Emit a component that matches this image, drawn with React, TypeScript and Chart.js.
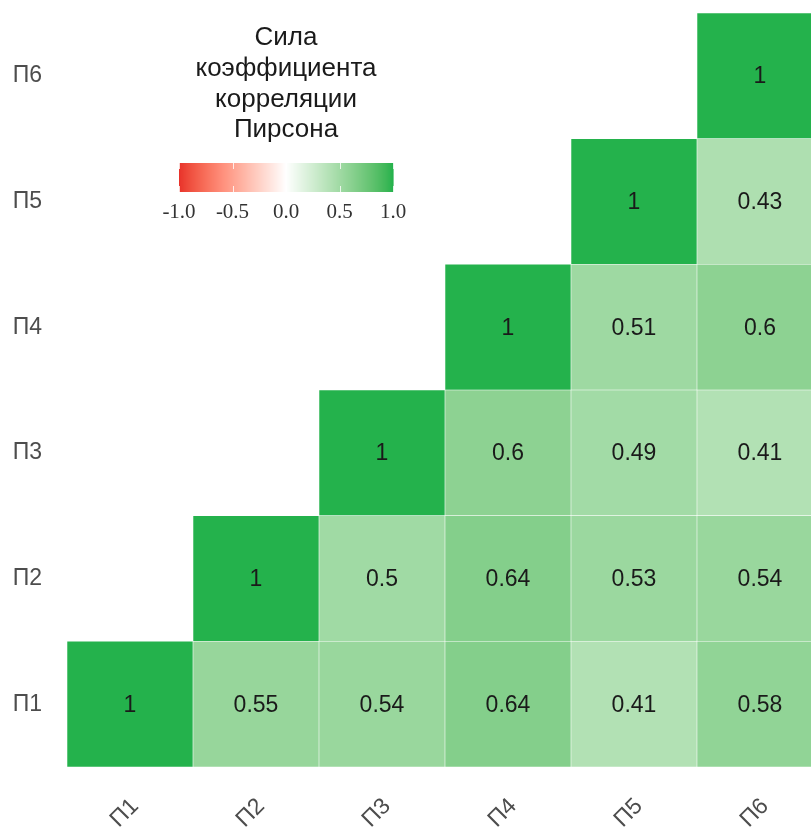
import React, { useEffect, useRef } from "react";
import { Chart, registerables } from "chart.js";
Chart.register(...registerables);

const categories = ["П1", "П2", "П3", "П4", "П5", "П6"];
const rowP1 = [1, 0.55, 0.54, 0.64, 0.41, 0.58];
const rowP2 = [null, 1, 0.5, 0.64, 0.53, 0.54];
const rowP3 = [null, null, 1, 0.6, 0.49, 0.41];
const rowP4 = [null, null, null, 1, 0.51, 0.6];
const rowP5 = [null, null, null, null, 1, 0.43];
const rowP6 = [null, null, null, null, null, 1];
const rows = [rowP1, rowP2, rowP3, rowP4, rowP5, rowP6];
const legendTitle = ["Сила", "коэффициента", "корреляции", "Пирсона"];
const legendTicks = [-1, -0.5, 0, 0.5, 1];

const LOW = [232, 49, 42];
const HIGH = [36, 178, 76];
const MID = [255, 255, 255];

function srgbToLin(c: number) { c /= 255; return c <= 0.04045 ? c / 12.92 : Math.pow((c + 0.055) / 1.055, 2.4); }
function linToSrgb(c: number) { const v = c <= 0.0031308 ? 12.92 * c : 1.055 * Math.pow(c, 1 / 2.4) - 0.055; return Math.max(0, Math.min(255, Math.round(v * 255))); }
const Xn = 0.95047, Yn = 1.0, Zn = 1.08883;
function f(t: number) { return t > 216 / 24389 ? Math.cbrt(t) : (24389 / 27 * t + 16) / 116; }
function finv(t: number) { return t * t * t > 216 / 24389 ? t * t * t : (116 * t - 16) / (24389 / 27); }
function rgbToLab(rgb: number[]) {
  const [r, g, b] = rgb.map(srgbToLin);
  const X = 0.4124 * r + 0.3576 * g + 0.1805 * b;
  const Y = 0.2126 * r + 0.7152 * g + 0.0722 * b;
  const Z = 0.0193 * r + 0.1192 * g + 0.9505 * b;
  const fx = f(X / Xn), fy = f(Y / Yn), fz = f(Z / Zn);
  return [116 * fy - 16, 500 * (fx - fy), 200 * (fy - fz)];
}
function labToRgb(lab: number[]) {
  const [L, a, bb] = lab;
  const fy = (L + 16) / 116, fx = fy + a / 500, fz = fy - bb / 200;
  const X = Xn * finv(fx), Y = Yn * finv(fy), Z = Zn * finv(fz);
  const r = 3.2406 * X - 1.5372 * Y - 0.4986 * Z;
  const g = -0.9689 * X + 1.8758 * Y + 0.0415 * Z;
  const b = 0.0557 * X - 0.204 * Y + 1.057 * Z;
  return [linToSrgb(r), linToSrgb(g), linToSrgb(b)];
}
function colorFor(v: number) {
  const end = v >= 0 ? HIGH : LOW;
  const t = Math.min(1, Math.abs(v));
  const a = rgbToLab(MID), b = rgbToLab(end);
  const lab = a.map((x, i) => x + (b[i] - x) * t);
  const [r, g, bl] = labToRgb(lab);
  return `rgb(${r},${g},${bl})`;
}

const FONT = "'Liberation Sans', Arial, Helvetica, sans-serif";

const cellLabels = {
  id: "cellLabels",
  afterDatasetsDraw(chart: any) {
    const ctx = chart.ctx;
    ctx.save();
    ctx.font = `23px ${FONT}`;
    ctx.fillStyle = "#1a1a1a";
    ctx.textAlign = "center";
    ctx.textBaseline = "middle";
    chart.data.datasets.forEach((ds: any, di: number) => {
      const meta = chart.getDatasetMeta(di);
      meta.data.forEach((el: any, i: number) => {
        const v = rows[di][i];
        if (v === null || v === undefined) return;
        const cy = (el.y + el.base) / 2;
        ctx.fillText(String(v), el.x, cy + 1);
      });
    });
    ctx.restore();
  },
};

const legendPlugin = {
  id: "corrLegend",
  afterDraw(chart: any) {
    const ctx = chart.ctx;
    ctx.save();
    const cx = 286;
    ctx.font = `26px ${FONT}`;
    ctx.fillStyle = "#1a1a1a";
    ctx.textAlign = "center";
    ctx.textBaseline = "middle";
    legendTitle.forEach((t, i) => ctx.fillText(t, cx, 38 + i * 30.7));
    const x0 = 179, x1 = 393, y0 = 163, y1 = 192;
    const steps = 214;
    for (let i = 0; i < steps; i++) {
      const v = -1 + (2 * (i + 0.5)) / steps;
      ctx.fillStyle = colorFor(v);
      ctx.fillRect(x0 + (i * (x1 - x0)) / steps, y0, (x1 - x0) / steps + 0.6, y1 - y0);
    }
    ctx.strokeStyle = "rgba(255,255,255,0.8)";
    ctx.lineWidth = 1;
    legendTicks.forEach((v) => {
      const x = Math.round(x0 + ((v + 1) / 2) * (x1 - x0)) + 0.5;
      ctx.beginPath();
      ctx.moveTo(x, y0); ctx.lineTo(x, y0 + 6);
      ctx.moveTo(x, y1 - 6); ctx.lineTo(x, y1);
      ctx.stroke();
    });
    ctx.font = "21px 'Liberation Serif', 'Times New Roman', serif";
    ctx.fillStyle = "#333";
    legendTicks.forEach((v) => {
      const x = x0 + ((v + 1) / 2) * (x1 - x0);
      ctx.fillText(v.toFixed(1), x, 212);
    });
    ctx.restore();
  },
};

export default function App() {
  const ref = useRef<HTMLCanvasElement>(null);
  useEffect(() => {
    if (!ref.current) return;
    const datasets = rows.map((row, r) => ({
      label: categories[r],
      data: row.map((v) => (v === null ? null : [r + 0.5, r + 1.5])),
      backgroundColor: row.map((v) => (v === null ? "transparent" : colorFor(v))),
      borderColor: "rgba(255,255,255,0.55)",
      borderWidth: 0.6,
      borderSkipped: false,
      grouped: false,
      barPercentage: 1,
      categoryPercentage: 1,
    }));
    const chart = new Chart(ref.current, {
      type: "bar",
      data: { labels: categories, datasets: datasets as any },
      options: {
        animation: false,
        responsive: false,
        maintainAspectRatio: false,
        layout: { padding: { top: 13, right: 7, left: 0, bottom: 0 } },
        plugins: { legend: { display: false }, tooltip: { enabled: false } },
        scales: {
          x: {
            type: "category",
            grid: { display: false, drawTicks: false },
            border: { display: false },
            ticks: {
              color: "#4d4d4d",
              font: { size: 23, family: FONT },
              maxRotation: 45,
              minRotation: 45,
              padding: 26,
              labelOffset: 5,
            },
            afterFit: (s: any) => { s.height = 61; s.paddingLeft = 0; s.paddingRight = 0; },
          },
          y: {
            type: "linear",
            min: 0.5,
            max: 6.5,
            grid: { display: false, drawTicks: false },
            border: { display: false },
            afterBuildTicks: (s: any) => { s.ticks = [1, 2, 3, 4, 5, 6].map((v) => ({ value: v })); },
            ticks: {
              color: "#4d4d4d",
              font: { size: 23, family: FONT },
              padding: 25,
              callback: (v: any) => categories[Math.round(Number(v)) - 1] ?? "",
            },
            afterFit: (s: any) => { s.width = 67; s.paddingTop = 0; s.paddingBottom = 0; },
          },
        },
      },
      plugins: [cellLabels, legendPlugin],
    });
    return () => chart.destroy();
  }, []);
  return (
    <div style={{ position: "fixed", left: 0, top: 0, width: 811, height: 828, overflow: "hidden", background: "#fff" }}>
      <canvas ref={ref} width={830} height={828} style={{ width: 830, height: 828, display: "block" }} />
    </div>
  );
}
